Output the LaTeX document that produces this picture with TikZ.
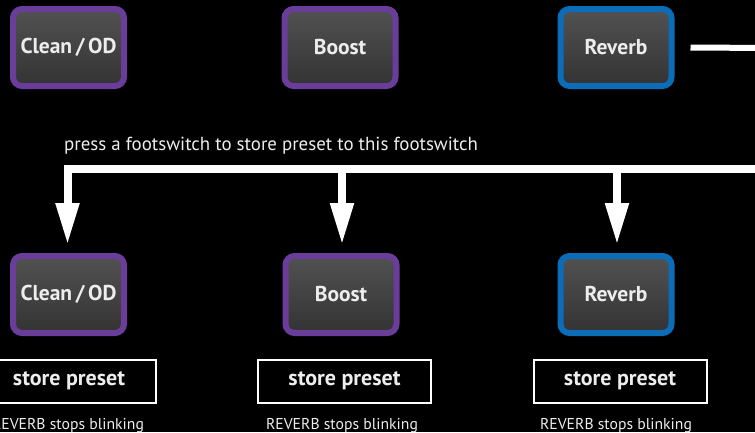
\documentclass[tikz,border=0pt]{standalone}
\usepackage{fontspec}
\setmainfont{PT Sans}
\usetikzlibrary{positioning}
\usetikzlibrary{arrows.meta}
\usetikzlibrary{calc}
\definecolor{fsPurple}{HTML}{6A3D9A}
\definecolor{fsBlue}{HTML}{0B6DB7}
\definecolor{fsText}{HTML}{EDEDED}
\tikzset{>={Triangle[width=22pt,length=42pt]}}
\tikzset{fsw/.style={draw=#1, line width=6pt, rounded corners=9pt,
    top color=black!68, bottom color=black!80,
    minimum width=111pt, minimum height=77pt, inner sep=0pt,
    text=fsText, font=\bfseries\fontsize{21.5}{23}\selectfont}}
\tikzset{storebox/.style={draw=white, line width=2pt, fill=black,
    minimum width=173pt, minimum height=43pt, inner sep=0pt,
    text=fsText, font=\bfseries\fontsize{22}{24}\selectfont}}
\tikzset{note/.style={text=fsText, inner sep=0pt, font=\fontsize{15.7}{18}\selectfont}}
\tikzset{wire/.style={draw=white, line width=8pt, line join=miter}}

\begin{document}
\begin{tikzpicture}[x=1pt, y=-1pt]
\useasboundingbox (0,0) rectangle (755,432);
\clip (0,0) rectangle (755,432);
\fill[black] (0,0) rectangle (755,432);

% footswitches before
\node[fsw=fsPurple] (cleanA) at (68.5, 47.5) {Clean\,/\,OD};
\node[fsw=fsPurple] (boostA) at (340, 47.5) {Boost};
\node[fsw=fsBlue] (reverbA) at (616, 47.5) {Reverb};

% footswitches after
\node[fsw=fsPurple] (cleanB) at (68.5, 294.5) {Clean\,/\,OD};
\node[fsw=fsPurple] (boostB) at (341, 294.5) {Boost};
\node[fsw=fsBlue] (reverbB) at (616, 294.5) {Reverb};

\node[storebox] (storeA) at (69, 381) {store preset};
\node[storebox] (storeB) at (344.5, 381) {store preset};
\node[storebox] (storeC) at (620, 381) {store preset};

\node[note, anchor=base] (blinkA) at (68, 429) {REVERB stops blinking};
\node[note, anchor=base] (blinkB) at (342, 429) {REVERB stops blinking};
\node[note, anchor=base] (blinkC) at (616, 429) {REVERB stops blinking};

\node[note, anchor=base west, font=\fontsize{18.9}{21}\selectfont] (press) at (64, 150)
  {press a footswitch to store preset to this footswitch};

\coordinate (outR) at (770, 48);
\coordinate (busR) at (770, 169);
\coordinate (busL) at (67.5, 169);
\coordinate (tapB) at (342, 169);
\coordinate (tapC) at (617, 169);

\draw[wire, line width=6pt] ([xshift=16pt]reverbA.east) -- (outR);

\draw[wire, ->, shorten >=8pt] (busR) -- (busL) -- (busL |- cleanB.north);
\draw[wire, ->, shorten >=8pt] (tapB) -- (tapB |- boostB.north);
\draw[wire, ->, shorten >=8pt] (tapC) -- (tapC |- reverbB.north);
\end{tikzpicture}
\end{document}
